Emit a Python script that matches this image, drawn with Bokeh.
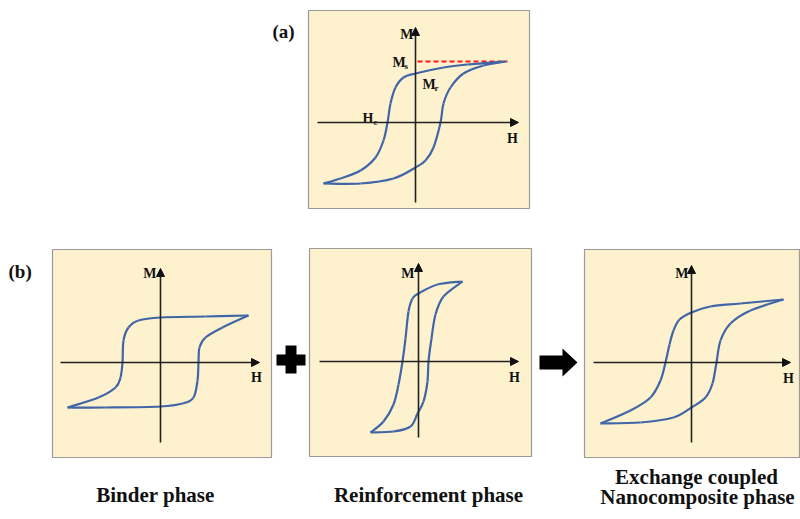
from bokeh.plotting import figure
from bokeh.models import Range1d, Arrow, NormalHead
from bokeh.core.properties import value
from bokeh.embed import file_html
from bokeh.resources import INLINE

# ---------------- data ----------------
# Panel frames (page pixels)
PANEL_L = [308, 52, 309, 584]
PANEL_R = [529, 271, 531, 799]
PANEL_T = [10, 249, 248, 249]
PANEL_B = [208, 457, 456, 457]

# Axis origins and extents for each panel: (a), binder, reinforcement, nanocomposite
ORIG_X = [415, 160, 418, 691]
ORIG_Y = [122, 362, 361, 362]
HAX_START = [317, 60, 319, 593]
HAX_END = [518, 259, 518, 790]
VAX_START = [202, 442, 437, 442]
VAX_END = [27, 268, 263, 265]

# Hysteresis loops: H and M relative to the axis origin (M positive upward)
A_UP_H = [90, 52, 28, 0, -12, -20, -25, -28, -32, -40, -55, -75, -92]
A_UP_M = [61, 58, 55, 49, 45, 35, 19, 0, -18, -35, -48, -56, -61]
A_LO_H = [-92, -55, -22, 0, 10, 18, 25, 28, 35, 48, 68, 90]
A_LO_M = [-61, -61, -56, -45, -38, -25, 0, 19, 35, 49, 57, 61]

B_UP_H = [88, 45, 0, -22, -32, -37, -38, -40, -45, -62, -93]
B_UP_M = [47, 46, 45, 42, 35, 22, 0, -15, -25, -35, -45]
B_LO_H = [-93, -55, 0, 22, 33, 37, 38, 39, 45, 62, 88]
B_LO_M = [-45, -45, -44, -41, -35, -18, 0, 15, 25, 35, 47]

R_UP_H = [44, 19, 0, -6, -10, -13, -16, -20, -25, -35, -48]
R_UP_M = [80, 77, 68, 63, 50, 23, 0, -23, -43, -60, -71]
R_LO_H = [-48, -25, -8, -1, 5, 9, 10, 13, 17, 25, 44]
R_LO_M = [-71, -70, -65, -52, -40, -20, 0, 23, 47, 65, 80]

N_UP_H = [92, 49, 19, 0, -12, -18, -22, -26, -31, -41, -61, -91]
N_UP_M = [63, 59, 56, 50, 43, 32, 18, 0, -18, -35, -48, -61]
N_LO_H = [-91, -51, -18, 0, 14, 21, 25, 29, 39, 59, 92]
N_LO_M = [-61, -60, -55, -45, -35, -21, 0, 22, 39, 52, 63]

LOOPS = [(A_UP_H, A_UP_M, A_LO_H, A_LO_M),
         (B_UP_H, B_UP_M, B_LO_H, B_LO_M),
         (R_UP_H, R_UP_M, R_LO_H, R_LO_M),
         (N_UP_H, N_UP_M, N_LO_H, N_LO_M)]

MS_LEVEL = 61          # saturation level in panel (a)
MS_DASH_H = [2, 92]

CAPTIONS = ["Binder phase", "Reinforcement phase", "Exchange coupled", "Nanocomposite phase"]

# ---------------- figure ----------------
p = figure(width=800, height=519, x_range=Range1d(0, 800), y_range=Range1d(519, 0),
           output_backend="svg", toolbar_location=None, min_border=0)
p.axis.visible = False
p.grid.visible = False
p.outline_line_color = None
p.background_fill_color = "white"
p.border_fill_color = "white"

BG = "#FDF1CE"
LOOP = "#4166A8"
FONT = value("Liberation Serif")

p.quad(left=PANEL_L, right=PANEL_R, top=PANEL_T, bottom=PANEL_B,
       fill_color=BG, line_color="#9a9a9a", line_width=1.2)

# axes with arrowheads
for i in range(4):
    p.add_layout(Arrow(x_start=HAX_START[i], y_start=ORIG_Y[i], x_end=HAX_END[i], y_end=ORIG_Y[i],
                       line_color="#222222", line_width=1.6,
                       end=NormalHead(size=8, fill_color="#111111", line_color="#111111")))
    p.add_layout(Arrow(x_start=ORIG_X[i], y_start=VAX_START[i], x_end=ORIG_X[i], y_end=VAX_END[i],
                       line_color="#222222", line_width=1.6,
                       end=NormalHead(size=8, fill_color="#111111", line_color="#111111")))

# red dashed saturation line (panel a)
p.line([ORIG_X[0] + h for h in MS_DASH_H], [ORIG_Y[0] - MS_LEVEL] * 2,
       line_color="#FF1A1A", line_width=2, line_dash="5 3")


def smooth_branch(xs, ys):
    """Cubic Bezier segments passing through the read points (Catmull-Rom tangents)."""
    n = len(xs)
    px = [xs[0]] + list(xs) + [xs[-1]]
    py = [ys[0]] + list(ys) + [ys[-1]]
    x0, y0, x1, y1, cx0, cy0, cx1, cy1 = ([] for _ in range(8))
    for i in range(1, n):
        a, b, c, d = i - 1, i, i + 1, i + 2
        x0.append(px[b]); y0.append(py[b])
        x1.append(px[c]); y1.append(py[c])
        cx0.append(px[b] + (px[c] - px[a]) / 6.0); cy0.append(py[b] + (py[c] - py[a]) / 6.0)
        cx1.append(px[c] - (px[d] - px[b]) / 6.0); cy1.append(py[c] - (py[d] - py[b]) / 6.0)
    return dict(x0=x0, y0=y0, x1=x1, y1=y1, cx0=cx0, cy0=cy0, cx1=cx1, cy1=cy1)


# loops
for i, (uh, um, lh, lm) in enumerate(LOOPS):
    for hh, mm in ((uh, um), (lh, lm)):
        xs = [ORIG_X[i] + h for h in hh]
        ys = [ORIG_Y[i] - m for m in mm]
        seg = smooth_branch(xs, ys)
        p.bezier(line_color=LOOP, line_width=2.2, **seg)

# axis labels M / H
m_x = [413, 156, 414, 688]
m_y = [34, 273, 273, 273]
h_x = [512, 256, 514, 788]
h_y = [138, 377, 377, 378]
p.text(x=m_x, y=m_y, text=["M"] * 4, text_font=FONT, text_font_style="bold",
       text_font_size=value("14px"), text_align="right", text_baseline="alphabetic", text_color="#111111")
p.text(x=h_x, y=h_y, text=["H"] * 4, text_font=FONT, text_font_style="bold",
       text_font_size=value("14px"), text_align="center", text_baseline="alphabetic", text_color="#111111")

# Ms, Mr, Hc labels in panel (a)
p.text(x=[392, 422, 362], y=[62, 84, 118], text=["M", "M", "H"], text_font=FONT,
       text_font_style="bold", text_font_size=value("14px"), text_baseline="alphabetic",
       text_color="#111111")
p.text(x=[404, 434, 373], y=[65, 87, 121], text=["s", "r", "c"], text_font=FONT,
       text_font_style="bold", text_font_size=value("9px"), text_baseline="alphabetic",
       text_color="#111111")

# panel tags
p.text(x=[272, 8], y=[31, 271], text=["(a)", "(b)"], text_font=FONT, text_font_style="bold",
       text_font_size=value("19px"), text_baseline="alphabetic", text_color="#111111")

# plus sign
p.quad(left=[276, 285], right=[305, 296], top=[354, 345], bottom=[365, 373],
       fill_color="black", line_color=None)
# arrow
p.patch(x=[539, 562, 562, 577, 562, 562, 539], y=[355, 355, 348, 362, 376, 369, 369],
        fill_color="black", line_color=None)

# captions
p.text(x=[155, 428, 696, 697], y=[494, 494, 476, 496], text=CAPTIONS, text_font=FONT,
       text_font_style="bold", text_font_size=value("21px"), text_align="center",
       text_baseline="alphabetic", text_color="#111111")

open("out.html", "w").write(file_html(p, INLINE))
